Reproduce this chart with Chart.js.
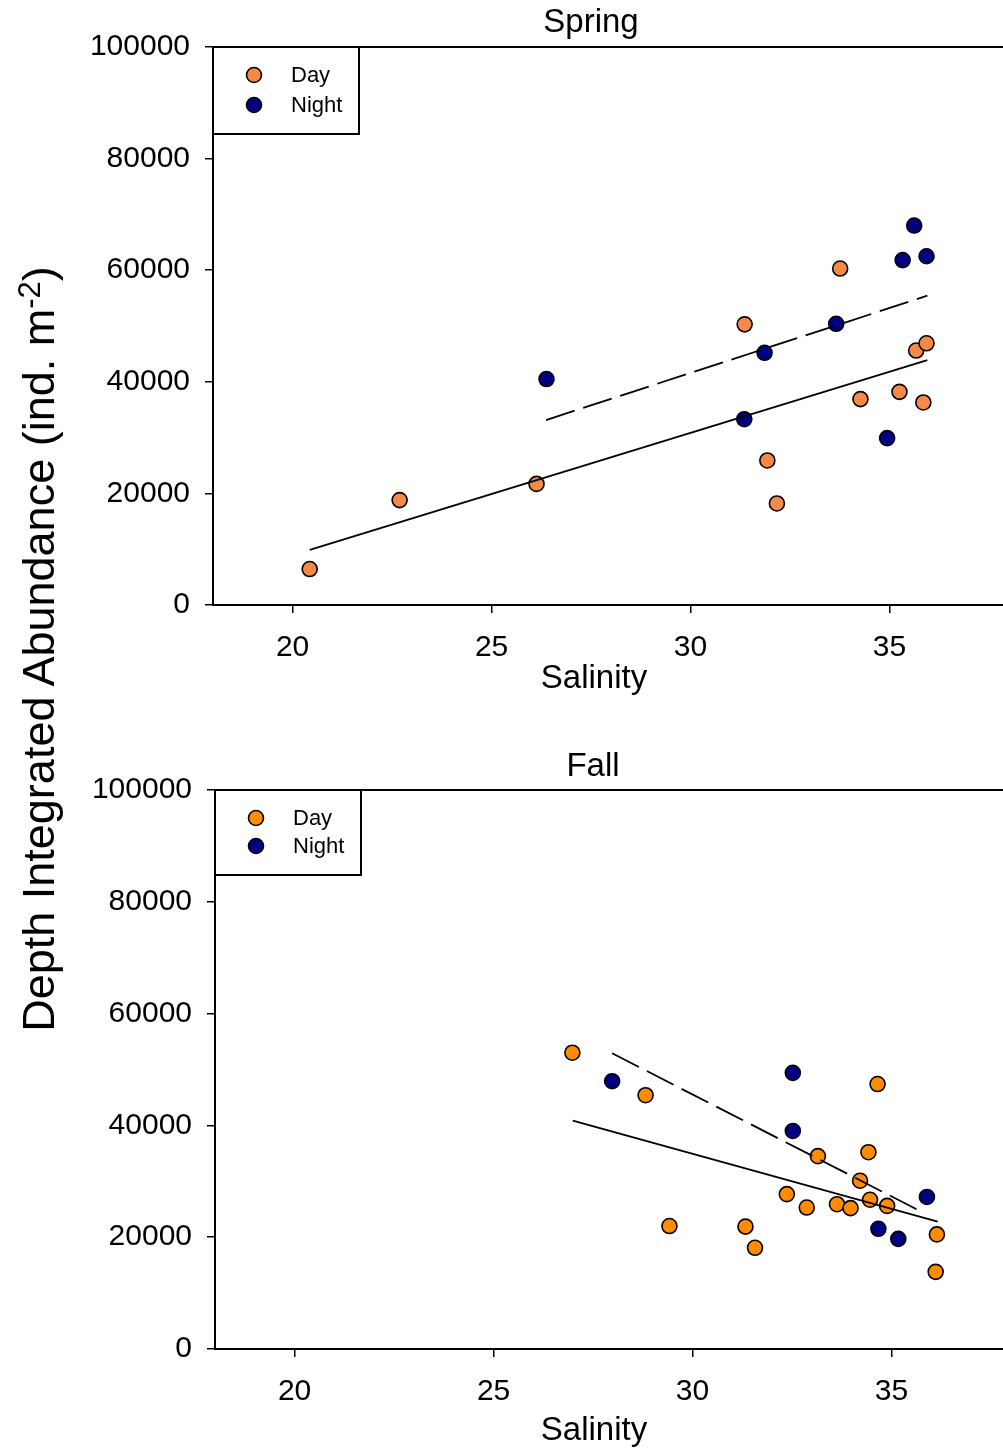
<!DOCTYPE html>
<html>
<head>
<meta charset="utf-8">
<script src="https://cdn.jsdelivr.net/npm/chart.js@4.4.1/dist/chart.umd.min.js"></script>
<style>
  body { margin: 0; background: #fff; overflow: hidden; width: 1003px; height: 1449px; position: relative; }
  .panel { position: absolute; width: 1018px; }
  .panel canvas { display: block; }
  #ytitle {
    position: absolute; left: -411px; top: 624px; width: 900px; height: 50px;
    line-height: 50px; text-align: center; white-space: nowrap;
    font-family: "Liberation Sans", Arial, sans-serif; font-size: 45px; color: #000;
    transform: rotate(-90deg); transform-origin: 50% 50%;
  }
  #ytitle sup { font-size: 31px; vertical-align: 14px; line-height: 0; }
</style>
</head>
<body>
<div class="panel" style="left:0;top:0;height:700px"><canvas id="spring" width="1018" height="700"></canvas></div>
<div class="panel" style="left:2px;top:743px;height:706px"><canvas id="fall" width="1018" height="706"></canvas></div>
<div id="ytitle">Depth Integrated Abundance (ind. m<sup>-2</sup>)</div>
<script>
// Salinity vs depth integrated abundance, spring and fall
var xTicks = [20, 25, 30, 35];
var yTicks = [0, 20000, 40000, 60000, 80000, 100000];

var springDayX = [20.43, 22.69, 26.13, 31.36, 31.93, 32.17, 33.76, 34.27, 35.25, 35.67, 35.93, 35.85];
var springDayY = [6450, 18800, 21700, 50300, 25900, 18200, 60300, 36900, 38200, 45600, 46900, 36300];
var springNightX = [26.38, 31.35, 31.86, 33.66, 34.94, 35.33, 35.62, 35.93];
var springNightY = [40500, 33300, 45200, 50400, 29900, 61800, 68000, 62500];
// regression line end points
var springDayFitX = [20.43, 35.95];
var springDayFitY = [9860, 43900];
var springNightFitX = [26.37, 35.95];
var springNightFitY = [33150, 55430];

var fallDayX = [26.98, 28.82, 29.42, 31.33, 31.57, 32.37, 32.87, 33.15, 33.63, 33.97, 34.21, 34.42, 34.46, 34.65, 34.89, 36.14, 36.11];
var fallDayY = [53000, 45400, 22000, 21900, 18100, 27700, 25300, 34500, 25900, 25200, 30100, 35200, 26700, 47400, 25600, 20500, 13800];
var fallNightX = [27.98, 32.52, 32.52, 34.67, 35.17, 35.89];
var fallNightY = [47900, 49400, 39000, 21500, 19700, 27200];
var fallDayFitX = [26.99, 36.16];
var fallDayFitY = [40840, 22770];
var fallNightFitX = [27.98, 35.75];
var fallNightFitY = [52900, 24560];

var FONT = "'Liberation Sans', Arial, sans-serif";
var NAVY = "rgb(0,0,128)";

function pts(xs, ys) {
  return xs.map(function (x, i) { return { x: x, y: ys[i] }; });
}

// title, x label, frame and the boxed legend
var panelText = {
  id: "panelText",
  afterDraw: function (chart, args, opts) {
    var ctx = chart.ctx;
    var a = chart.chartArea;
    ctx.save();
    ctx.strokeStyle = "#000";
    ctx.lineWidth = 2;
    ctx.beginPath();
    ctx.moveTo(a.left, a.top);
    ctx.lineTo(a.right, a.top);
    ctx.lineTo(a.right, a.bottom);
    ctx.stroke();

    ctx.fillStyle = "#000";
    ctx.font = "33px " + FONT;
    ctx.textAlign = "center";
    ctx.textBaseline = "alphabetic";
    ctx.fillText(opts.title, opts.titleX, opts.titleY);
    ctx.fillText("Salinity", opts.labelX, opts.labelY);

    // legend box
    var lg = opts.legend;
    ctx.fillStyle = "#fff";
    ctx.fillRect(a.left, a.top, lg.w, lg.h);
    ctx.lineWidth = 2;
    ctx.strokeRect(a.left, a.top, lg.w, lg.h);
    ctx.font = "22px " + FONT;
    ctx.textAlign = "left";
    ctx.textBaseline = "middle";
    var items = chart.data.datasets.filter(function (d) { return d.showInLegend; });
    items.forEach(function (d, i) {
      var cy = a.top + lg.y0 + i * lg.dy;
      ctx.beginPath();
      ctx.arc(a.left + 41, cy, 7.5, 0, Math.PI * 2);
      ctx.fillStyle = d.backgroundColor;
      ctx.fill();
      ctx.lineWidth = 1.6;
      ctx.strokeStyle = "#000";
      ctx.stroke();
      ctx.fillStyle = "#000";
      ctx.fillText(d.label, a.left + 78, cy + 1);
    });
    ctx.restore();
  }
};

function makePanel(id, dayColor, dayX, dayY, nightX, nightY, dFitX, dFitY, nFitX, nFitY, xHeight, text) {
  var pointStyle = { pointRadius: 7.5, pointHoverRadius: 7.5, borderColor: "#000", borderWidth: 1.6, order: 2 };
  return new Chart(document.getElementById(id), {
    type: "scatter",
    data: {
      datasets: [
        Object.assign({ label: "Day", data: pts(dayX, dayY), backgroundColor: dayColor, showInLegend: true }, pointStyle),
        Object.assign({ label: "Night", data: pts(nightX, nightY), backgroundColor: NAVY, showInLegend: true }, pointStyle),
        { label: "Day fit", data: pts(dFitX, dFitY), showLine: true, pointRadius: 0, borderColor: "#000", borderWidth: 1.8, order: 1 },
        { label: "Night fit", data: pts(nFitX, nFitY), showLine: true, pointRadius: 0, borderColor: "#000", borderWidth: 1.8, borderDash: [30, 9], order: 1 }
      ]
    },
    options: {
      responsive: false,
      maintainAspectRatio: false,
      animation: false,
      devicePixelRatio: 1,
      layout: { padding: { top: 47, left: 0, right: 1, bottom: 0 } },
      plugins: {
        legend: { display: false },
        tooltip: { enabled: false },
        panelText: text
      },
      scales: {
        x: {
          type: "linear",
          min: 18,
          max: 38,
          afterBuildTicks: function (s) { s.ticks = xTicks.map(function (v) { return { value: v }; }); },
          afterFit: function (s) { s.height = xHeight; },
          border: { display: true, color: "#000", width: 2 },
          grid: { drawOnChartArea: false, drawTicks: true, tickLength: 8, color: "#000", lineWidth: 1.5 },
          ticks: { color: "#000", font: { family: FONT, size: 30 }, padding: 17, maxRotation: 0 }
        },
        y: {
          type: "linear",
          min: 0,
          max: 100000,
          afterBuildTicks: function (s) { s.ticks = yTicks.map(function (v) { return { value: v }; }); },
          afterFit: function (s) { s.width = 213; },
          border: { display: true, color: "#000", width: 2 },
          grid: { drawOnChartArea: false, drawTicks: true, tickLength: 8, color: "#000", lineWidth: 1.5 },
          ticks: { color: "#000", font: { family: FONT, size: 30 }, padding: 15, callback: function (v) { return String(v); } }
        }
      }
    },
    plugins: [panelText]
  });
}

makePanel("spring", "rgb(245,137,72)", springDayX, springDayY, springNightX, springNightY,
  springDayFitX, springDayFitY, springNightFitX, springNightFitY, 95,
  { title: "Spring", titleX: 591, titleY: 32, labelX: 594, labelY: 688, legend: { w: 146, h: 87, y0: 28, dy: 30 } });

makePanel("fall", "rgb(255,140,0)", fallDayX, fallDayY, fallNightX, fallNightY,
  fallDayFitX, fallDayFitY, fallNightFitX, fallNightFitY, 100,
  { title: "Fall", titleX: 591, titleY: 33, labelX: 592, labelY: 697, legend: { w: 146, h: 85, y0: 28, dy: 28 } });
</script>
</body>
</html>
